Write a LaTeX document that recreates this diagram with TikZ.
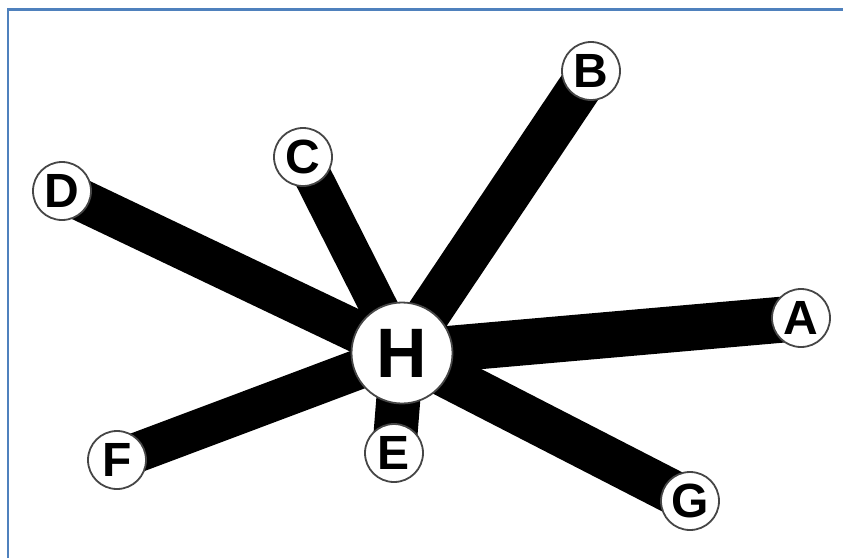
\documentclass[tikz,border=0pt]{standalone}
\usepackage{fontspec}
\setmainfont{Liberation Sans}
\definecolor{frameblue}{RGB}{79,129,189}
\definecolor{ringgray}{RGB}{70,70,70}
\begin{document}
\begin{tikzpicture}[x=1pt,y=-1pt,
  leaf/.style={circle,draw=ringgray,line width=1.8pt,fill=white,minimum size=58pt,inner sep=0pt,
    font=\fontsize{48}{48}\selectfont\bfseries},
  hub/.style={circle,draw=ringgray,line width=1.8pt,fill=white,minimum size=101pt,inner sep=0pt,
    font=\fontsize{70}{70}\selectfont\bfseries},
  bar/.style={line width=#1,black,line cap=butt}]
\useasboundingbox (0,0) rectangle (843,558);
\fill[white] (0,0) rectangle (843,558);
% frame on the left and top edges
\draw[frameblue,line width=2.8pt] (8,558) -- (8,9.5) -- (843,9.5);

% node positions
\coordinate (pH) at (402,353);
\coordinate (pA) at (801,318);
\coordinate (pB) at (591,71);
\coordinate (pC) at (303,157);
\coordinate (pD) at (62,191);
\coordinate (pE) at (394,453);
\coordinate (pF) at (117,460);
\coordinate (pG) at (690,501);

% weighted edges
\draw[bar=46pt] (pH) -- (pA);
\draw[bar=44pt] (pH) -- (pB);
\draw[bar=38pt] (pH) -- (pC);
\draw[bar=42pt] (pH) -- (pD);
\draw[bar=44pt] (pH) -- (pE);
\draw[bar=40pt] (pH) -- (pF);
\draw[bar=44pt] (pH) -- (pG);

% vertices
\node[hub]  (H) at (pH) {\raisebox{-4pt}{H}};
\node[leaf] (A) at (pA) {A};
\node[leaf] (B) at (pB) {B};
\node[leaf] (C) at (pC) {C};
\node[leaf] (D) at (pD) {D};
\node[leaf] (E) at (pE) {E};
\node[leaf] (F) at (pF) {F};
\node[leaf] (G) at (pG) {G};
\end{tikzpicture}
\end{document}
